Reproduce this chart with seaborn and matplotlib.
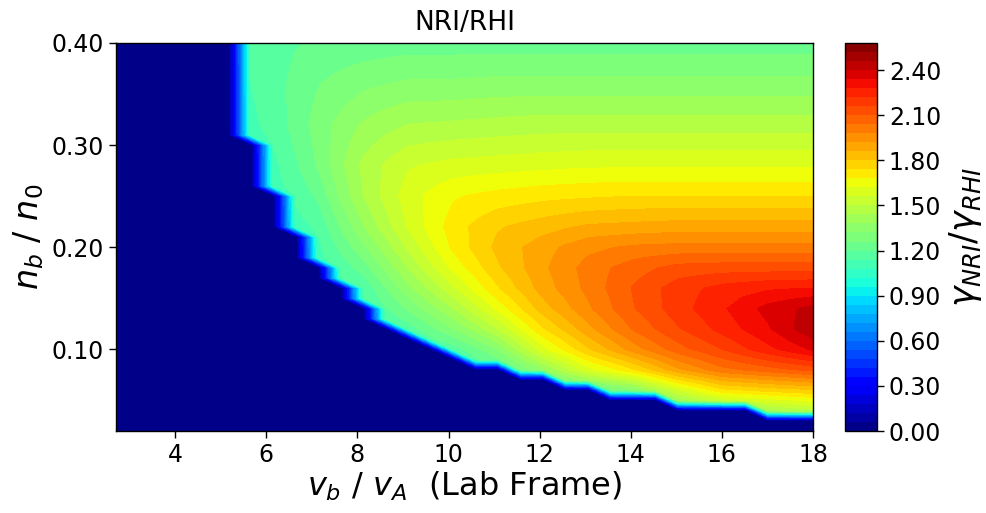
import numpy as np
import matplotlib
matplotlib.use("Agg")
import matplotlib.pyplot as plt
import seaborn as sns

# Simulation grid: beam speed (lab frame) and beam density fraction
vb_grid = np.linspace(2.7, 18.0, 32)
nb_grid = np.round(np.arange(0.02, 0.405, 0.01), 2)

# Lowest unstable n_b/n_0 for each v_b column (NaN: NRI stable over the whole range)
onset_nb = [np.nan, np.nan, np.nan, np.nan, np.nan, np.nan,
            0.31, 0.26, 0.22, 0.19, 0.17, 0.15, 0.13, 0.12, 0.11, 0.10,
            0.09, 0.09, 0.08, 0.08, 0.07, 0.07, 0.06, 0.06, 0.06,
            0.05, 0.05, 0.05, 0.05, 0.04, 0.04, 0.04]

# Growth-rate ratio gamma_NRI / gamma_RHI on a coarse (n_b row, v_b column) table;
# entries below the onset only continue the field and are masked out
vb_table = [5, 6, 7, 8, 9, 10, 11, 12, 13, 14, 15, 16, 17, 18]
nb_table = [0.02, 0.04, 0.06, 0.08, 0.10, 0.12, 0.14, 0.16, 0.18, 0.20,
            0.22, 0.25, 0.28, 0.32, 0.36, 0.40]
ratio_table = [
    [1.10, 1.10, 1.10, 1.10, 1.10, 1.10, 1.10, 1.10, 1.10, 1.10, 1.15, 1.20, 1.25, 1.30],  # 0.02
    [1.10, 1.10, 1.10, 1.10, 1.10, 1.10, 1.10, 1.10, 1.10, 1.15, 1.25, 1.35, 1.42, 1.48],  # 0.04
    [1.10, 1.10, 1.10, 1.10, 1.10, 1.10, 1.10, 1.12, 1.20, 1.30, 1.55, 1.72, 1.76, 1.79],  # 0.06
    [1.10, 1.10, 1.10, 1.10, 1.10, 1.10, 1.15, 1.35, 1.58, 1.72, 1.90, 2.02, 2.07, 2.12],  # 0.08
    [1.10, 1.10, 1.10, 1.10, 1.10, 1.15, 1.30, 1.58, 1.78, 1.94, 2.07, 2.16, 2.26, 2.35],  # 0.10
    [1.10, 1.10, 1.10, 1.10, 1.15, 1.30, 1.48, 1.72, 1.89, 2.04, 2.15, 2.24, 2.33, 2.45],  # 0.12
    [1.10, 1.10, 1.10, 1.10, 1.25, 1.42, 1.62, 1.82, 1.96, 2.09, 2.19, 2.27, 2.36, 2.42],  # 0.14
    [1.10, 1.10, 1.10, 1.12, 1.34, 1.53, 1.72, 1.88, 1.99, 2.10, 2.19, 2.24, 2.27, 2.28],  # 0.16
    [1.10, 1.10, 1.10, 1.20, 1.42, 1.62, 1.78, 1.90, 2.00, 2.07, 2.12, 2.13, 2.13, 2.13],  # 0.18
    [1.10, 1.10, 1.10, 1.28, 1.49, 1.68, 1.81, 1.89, 1.96, 1.99, 2.00, 2.00, 2.00, 2.00],  # 0.20
    [1.10, 1.10, 1.12, 1.35, 1.55, 1.70, 1.79, 1.83, 1.87, 1.88, 1.89, 1.89, 1.89, 1.89],  # 0.22
    [1.10, 1.10, 1.18, 1.42, 1.58, 1.67, 1.70, 1.72, 1.73, 1.74, 1.74, 1.74, 1.74, 1.74],  # 0.25
    [1.10, 1.10, 1.24, 1.44, 1.55, 1.58, 1.59, 1.60, 1.61, 1.61, 1.61, 1.61, 1.61, 1.61],  # 0.28
    [1.10, 1.14, 1.27, 1.38, 1.44, 1.45, 1.46, 1.47, 1.47, 1.47, 1.47, 1.47, 1.47, 1.47],  # 0.32
    [1.10, 1.16, 1.25, 1.30, 1.33, 1.33, 1.34, 1.34, 1.34, 1.34, 1.34, 1.34, 1.34, 1.34],  # 0.36
    [1.10, 1.17, 1.21, 1.22, 1.23, 1.23, 1.23, 1.23, 1.23, 1.23, 1.23, 1.23, 1.23, 1.23],  # 0.40
]

title = "NRI/RHI"
x_label = r"$v_b\ /\ v_A$  (Lab Frame)"
y_label = r"$n_b\ /\ n_0$"
cbar_label = r"$\gamma_{NRI}/\gamma_{RHI}$"
cbar_ticks = [0.00, 0.30, 0.60, 0.90, 1.20, 1.50, 1.80, 2.10, 2.40]
x_ticks = [4, 6, 8, 10, 12, 14, 16, 18]
y_ticks = [0.10, 0.20, 0.30, 0.40]


def table_on_grid(table, rows, cols, xq, yq):
    """Put the tabulated ratio on the simulation grid (linear in each direction)."""
    table = np.asarray(table, dtype=float)
    along_x = np.array([np.interp(xq, cols, r) for r in table])
    return np.array([np.interp(yq, rows, along_x[:, j]) for j in range(len(xq))]).T


VB, NB = np.meshgrid(vb_grid, nb_grid)
ratio = table_on_grid(ratio_table, nb_table, vb_table, vb_grid, nb_grid)
onset = np.asarray(onset_nb, dtype=float)
onset_filled = np.where(np.isnan(onset), 1.0, onset)
stable = NB < onset_filled[None, :] - 1e-9
ratio[stable] = 0.0

sns.set_theme(style="ticks")
plt.rcParams["font.family"] = ["DejaVu Sans"]
plt.rcParams["mathtext.fontset"] = "dejavusans"
for key in ("text.color", "axes.labelcolor", "xtick.color", "ytick.color", "axes.edgecolor"):
    plt.rcParams[key] = "black"

fig = plt.figure(figsize=(9.86, 5.13), dpi=100)
ax = fig.add_axes([0.1176, 0.1598, 0.7069, 0.7564])
cax = fig.add_axes([0.857, 0.1598, 0.0325, 0.7564])

cmap = sns.mpl_palette("jet", as_cmap=True)
levels = np.linspace(0.0, 2.58, 44)
cs = ax.contourf(VB, NB, ratio, levels=levels, cmap=cmap)

ax.set_xlim(vb_grid[0], vb_grid[-1])
ax.set_ylim(nb_grid[0], nb_grid[-1])
ax.set_xticks(x_ticks)
ax.set_yticks(y_ticks)
ax.yaxis.set_major_formatter(matplotlib.ticker.FormatStrFormatter("%.2f"))
ax.tick_params(axis="both", labelsize=17, length=5, width=1, color="black", direction="out")
for s in ax.spines.values():
    s.set_color("black")
    s.set_linewidth(1.0)

ax.set_title(title, fontsize=19, pad=9)
ax.set_xlabel(x_label, fontsize=23, labelpad=2)
ax.set_ylabel(y_label, fontsize=24, labelpad=4)

cb = fig.colorbar(cs, cax=cax, ticks=cbar_ticks, format="%.2f")
cb.ax.tick_params(labelsize=17, length=5, width=1, color="black")
cb.outline.set_edgecolor("black")
cb.outline.set_linewidth(1.0)
cb.set_label(cbar_label, fontsize=25, labelpad=4)

fig.savefig("out.png", dpi=100)
